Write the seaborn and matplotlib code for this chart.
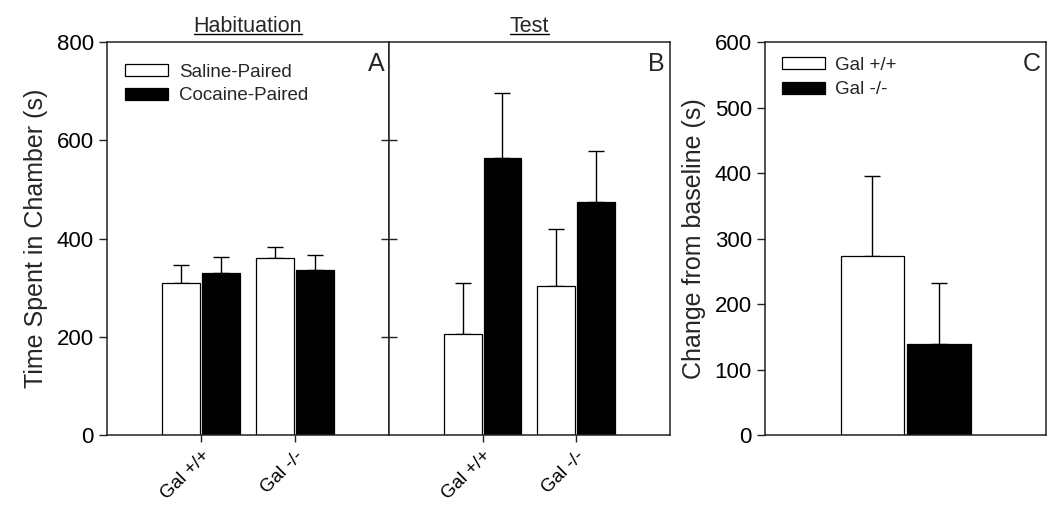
import numpy as np
import pandas as pd
import matplotlib
matplotlib.use("Agg")
import matplotlib.pyplot as plt
import seaborn as sns
from matplotlib.lines import Line2D
from matplotlib.patches import Patch

sns.set_theme(style="white")
plt.rcParams['font.family'] = ['Liberation Sans', 'DejaVu Sans']

# --- data ---
genotypes = ["Gal +/+", "Gal -/-"]
pairings = ["Saline-Paired", "Cocaine-Paired"]

hab_saline = [310, 360]
hab_saline_err = [37, 22]
hab_cocaine = [330, 335]
hab_cocaine_err = [33, 32]

test_saline = [206, 303]
test_saline_err = [104, 116]
test_cocaine = [565, 475]
test_cocaine_err = [132, 104]

change_vals = [273, 139]
change_err = [123, 93]

colors = {"Saline-Paired": "white", "Cocaine-Paired": "black"}
gcolors = {"Gal +/+": "white", "Gal -/-": "black"}


def make_df(sal, coc, sal_e, coc_e):
    return pd.DataFrame({
        "genotype": genotypes * 2,
        "pairing": [pairings[0]] * 2 + [pairings[1]] * 2,
        "time": sal + coc,
        "err": sal_e + coc_e,
    })


def add_errbars(ax, errs_by_level):
    for cont, errs in zip(ax.containers, errs_by_level):
        for bar, e in zip(cont, errs):
            x = bar.get_x() + bar.get_width() / 2
            y = bar.get_height()
            ax.errorbar(x, y, yerr=[[0], [e]], fmt="none", ecolor="black",
                        elinewidth=1.0, capsize=6, capthick=1.0, zorder=1)


def style_spines(ax):
    for s in ax.spines.values():
        s.set_visible(True)
        s.set_color("#222222")
        s.set_linewidth(1.1)


fig = plt.figure(figsize=(10.5, 5.15), dpi=100)
axA = fig.add_axes([0.1019, 0.1553, 0.2683, 0.763])
axB = fig.add_axes([0.3702, 0.1553, 0.2680, 0.763])
axC = fig.add_axes([0.7286, 0.1553, 0.2680, 0.763])

# --- Panel A: habituation ---
dfA = make_df(hab_saline, hab_cocaine, hab_saline_err, hab_cocaine_err)
sns.barplot(data=dfA, x="genotype", y="time", hue="pairing", order=genotypes,
            hue_order=pairings, palette=colors, edgecolor="black", linewidth=0.9,
            width=0.85, gap=0.05, errorbar=None, ax=axA, legend=False, zorder=2)
add_errbars(axA, [hab_saline_err, hab_cocaine_err])

# --- Panel B: test ---
dfB = make_df(test_saline, test_cocaine, test_saline_err, test_cocaine_err)
sns.barplot(data=dfB, x="genotype", y="time", hue="pairing", order=genotypes,
            hue_order=pairings, palette=colors, edgecolor="black", linewidth=0.9,
            width=0.85, gap=0.05, errorbar=None, ax=axB, legend=False, zorder=2)
add_errbars(axB, [test_saline_err, test_cocaine_err])

for ax in (axA, axB):
    ax.set_xlim(-1, 2)
    ax.set_ylim(0, 800)
    ax.set_xlabel("")
    style_spines(ax)
    ax.tick_params(axis="x", direction="out", length=5, width=1, bottom=True,
                   labelsize=13.5, colors="#222222", labelcolor="black", pad=4)
    for lab in ax.get_xticklabels():
        lab.set_rotation(45)
        lab.set_ha("right")
        lab.set_rotation_mode("anchor")

axA.set_yticks([0, 200, 400, 600, 800])
axA.tick_params(axis="y", direction="out", length=6, width=1, left=True,
                labelsize=16, colors="#222222", labelcolor="black")
axA.set_ylabel("Time Spent in Chamber (s)", fontsize=18, labelpad=6)

axB.set_yticks([200, 400, 600])
axB.set_yticklabels([])
axB.tick_params(axis="y", direction="inout", length=12, width=1, left=True,
                colors="#222222")
axB.set_ylabel("")

leg_handles = [Patch(facecolor=colors[p], edgecolor="black", linewidth=0.9, label=p)
               for p in pairings]
axA.legend(handles=leg_handles, loc="upper left", frameon=False, fontsize=13.5,
           handlelength=2.3, handleheight=0.6, handletextpad=0.55,
           labelspacing=0.35, bbox_to_anchor=(0.005, 0.988))

axA.text(0.985, 0.975, "A", transform=axA.transAxes, ha="right", va="top", fontsize=18)
axB.text(0.98, 0.975, "B", transform=axB.transAxes, ha="right", va="top", fontsize=18)

# --- Panel C: change from baseline ---
dfC = pd.DataFrame({"x": ["all", "all"], "genotype": genotypes, "change": change_vals})
sns.barplot(data=dfC, x="x", y="change", hue="genotype", hue_order=genotypes,
            palette=gcolors, edgecolor="black", linewidth=0.9, width=0.95, gap=0.05,
            errorbar=None, ax=axC, legend=False, zorder=2)
add_errbars(axC, [[change_err[0]], [change_err[1]]])
axC.set_xlim(-1, 1)
axC.set_ylim(0, 600)
axC.set_xticks([])
axC.set_xlabel("")
axC.set_yticks([0, 100, 200, 300, 400, 500, 600])
axC.tick_params(axis="y", direction="out", length=6, width=1, left=True,
                labelsize=16, colors="#222222", labelcolor="black")
axC.set_ylabel("Change from baseline (s)", fontsize=18, labelpad=6)
style_spines(axC)

leg_handles_c = [Patch(facecolor=gcolors[g], edgecolor="black", linewidth=0.9, label=g)
                 for g in genotypes]
axC.legend(handles=leg_handles_c, loc="upper left", frameon=False, fontsize=13.5,
           handlelength=2.3, handleheight=0.6, handletextpad=0.55,
           labelspacing=0.4, bbox_to_anchor=(0.0, 1.005))
axC.text(0.98, 0.975, "C", transform=axC.transAxes, ha="right", va="top", fontsize=18)

# --- underlined panel titles ---
tA = axA.set_title("Habituation", fontsize=15.5, pad=7)
tB = axB.set_title("Test", fontsize=15.5, pad=7)
fig.canvas.draw()
renderer = fig.canvas.get_renderer()
for t in (tA, tB):
    bb = t.get_window_extent(renderer).transformed(fig.transFigure.inverted())
    y = bb.y0 + 0.006
    fig.add_artist(Line2D([bb.x0, bb.x1], [y, y], transform=fig.transFigure,
                          color="black", linewidth=1.0))

fig.savefig("out.png", dpi=100)
